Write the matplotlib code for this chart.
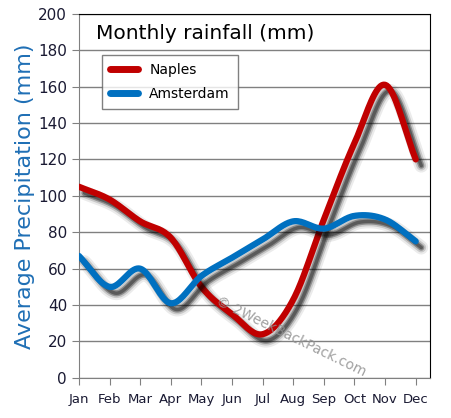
import numpy as np
import matplotlib
matplotlib.use("Agg")
import matplotlib.pyplot as plt
import matplotlib.patheffects as pe

months = ["Jan", "Feb", "Mar", "Apr", "May", "Jun",
          "Jul", "Aug", "Sep", "Oct", "Nov", "Dec"]
naples = [105, 98, 86, 77, 50, 35, 24, 43, 87, 129, 161, 120]
amsterdam = [67, 50, 60, 41, 56, 66, 76, 86, 82, 89, 87, 75]

red = "#c00000"
blue = "#0070c0"


def smooth(xs, ys, n=20):
    # catmull-rom curve through the points, like the excel "smoothed line"
    xs = np.asarray(xs, float)
    ys = np.asarray(ys, float)
    px = np.concatenate([[2 * xs[0] - xs[1]], xs, [2 * xs[-1] - xs[-2]]])
    py = np.concatenate([[2 * ys[0] - ys[1]], ys, [2 * ys[-1] - ys[-2]]])
    outx, outy = [], []
    t = np.linspace(0, 1, n, endpoint=False)
    for i in range(1, len(px) - 2):
        for p, out in ((px, outx), (py, outy)):
            p0, p1, p2, p3 = p[i - 1], p[i], p[i + 1], p[i + 2]
            out.extend(0.5 * (2 * p1 + (-p0 + p2) * t
                              + (2 * p0 - 5 * p1 + 4 * p2 - p3) * t ** 2
                              + (-p0 + 3 * p1 - 3 * p2 + p3) * t ** 3))
    outx.append(xs[-1])
    outy.append(ys[-1])
    return np.array(outx), np.array(outy)


fig = plt.figure(figsize=(4.51, 4.18), dpi=100)
ax = fig.add_axes([0.175, 0.096, 0.778, 0.871])

x = np.arange(len(months))
off = (4, -4.5)
# layered shadows fake a blur
shadow = [pe.SimpleLineShadow(offset=off, shadow_color="black", alpha=0.08, linewidth=10),
          pe.SimpleLineShadow(offset=off, shadow_color="black", alpha=0.15, linewidth=7),
          pe.SimpleLineShadow(offset=off, shadow_color="black", alpha=0.3, linewidth=4.5),
          pe.SimpleLineShadow(offset=off, shadow_color="black", alpha=0.35, linewidth=2.5),
          pe.Normal()]

for vals, col, name in ((naples, red, "Naples"), (amsterdam, blue, "Amsterdam")):
    sx, sy = smooth(x, vals)
    ax.plot(sx, sy, color=col, lw=4.5, solid_capstyle="round",
            path_effects=shadow, label=name, zorder=3)

ax.set_xlim(0, 11.46)
ax.set_ylim(0, 200)
ax.set_yticks(range(0, 201, 20))
ax.set_xticks(x)
ax.set_xticklabels(months)
ax.grid(axis="y", color="#808080", lw=1)
ax.set_axisbelow(True)
ax.tick_params(axis="both", colors="#808080", labelcolor="#1a1a33", labelsize=11,
               length=5, direction="out")
ax.tick_params(axis="x", labelsize=9.5, pad=6)
ax.spines["left"].set_color("#808080")
ax.spines["bottom"].set_color("#808080")
ax.spines["top"].set_color("black")
ax.spines["right"].set_color("black")

ax.set_ylabel("Average Precipitation (mm)", color="#1f6fb5", fontsize=16, labelpad=2)
ax.text(0.05, 0.947, "Monthly rainfall (mm)", transform=ax.transAxes,
        fontsize=14.5, va="center", ha="left")
ax.text(0.605, 0.115, "\u00a9 2WeekBackPack.com", transform=ax.transAxes,
        rotation=-26, color="#909090", fontsize=10, ha="center", va="center",
        alpha=0.85, zorder=4)

leg = ax.legend(loc="upper left", bbox_to_anchor=(0.066, 0.887), fontsize=10,
                handlelength=2.0, frameon=True, fancybox=False, borderpad=0.6,
                labelspacing=0.7, borderaxespad=0, edgecolor="#606060")
for h in leg.get_lines():
    h.set_linewidth(5)
    h.set_path_effects([])
leg.get_frame().set_linewidth(1)

fig.savefig("out.png", dpi=100)
